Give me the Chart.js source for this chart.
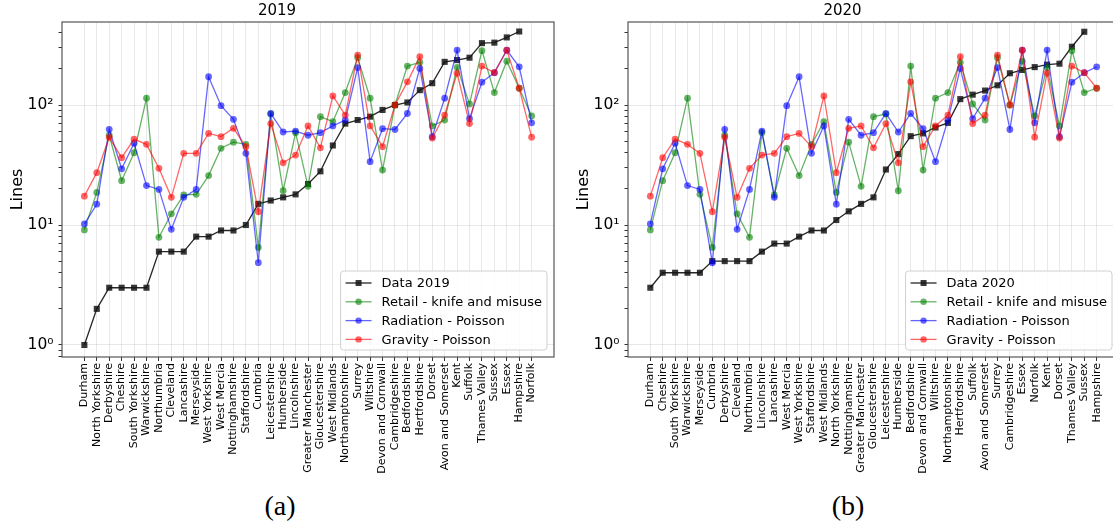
<!DOCTYPE html>
<html>
<head>
<meta charset="utf-8">
<script src="https://cdn.jsdelivr.net/npm/chart.js@4.4.1/dist/chart.umd.min.js"></script>
<style>
  body { margin: 0; width: 1113px; height: 529px; overflow: hidden; position: relative; background: #fff; }
  .box { position: absolute; top: 0; }
  .cap { position: absolute; top: 490px; font: 28px "Liberation Serif", serif; transform: translateX(-50%); }
</style>
</head>
<body>
<div class="box" style="left:0px"><canvas id="c2019" width="570" height="480"></canvas></div>
<div class="box" style="left:566px"><canvas id="c2020" width="570" height="480"></canvas></div>
<div class="cap" style="left:280px">(a)</div>
<div class="cap" style="left:848px">(b)</div>
<script>
// 2019, counties sorted by observed lines
var cats2019 = ["Durham", "North Yorkshire", "Derbyshire", "Cheshire", "South Yorkshire", "Warwickshire",
  "Northumbria", "Cleveland", "Lancashire", "Merseyside", "West Yorkshire", "West Mercia", "Nottinghamshire",
  "Staffordshire", "Cumbria", "Leicestershire", "Humberside", "Lincolnshire", "Greater Manchester",
  "Gloucestershire", "West Midlands", "Northamptonshire", "Surrey", "Wiltshire", "Devon and Cornwall",
  "Cambridgeshire", "Bedfordshire", "Hertfordshire", "Dorset", "Avon and Somerset", "Kent", "Suffolk",
  "Thames Valley", "Sussex", "Essex", "Hampshire", "Norfolk"];
var data2019 = [1, 2, 3, 3, 3, 3, 6, 6, 6, 8, 8, 9, 9, 10, 15, 16, 17, 18, 22, 28, 46, 70, 75, 80, 91,
  100, 105, 133, 152, 229, 237, 248, 328, 331, 366, 410, null];
var retail2019 = [9.1, 18.7, 56, 23.4, 40, 114, 7.9, 12.4, 17.8, 18, 25.8, 43.6, 49, 47, 6.5, 84, 19.3, 58.8,
  21, 80, 72.6, 127, 248, 114, 28.7, 100, 211, 227, 67, 75, 206, 102, 284, 127, 232, 138, 81];
var radiation2019 = [10.2, 14.9, 62.7, 29.4, 48, 21.3, 19.8, 9.2, 17, 19.8, 172, 98.7, 76, 39.6, 4.85, 85, 59.6,
  60.7, 56, 58.8, 67, 75, 205, 33.7, 63.5, 62.5, 85, 202, 54.5, 114, 287, 77, 155, 186, 286, 208, 71];
var gravity2019 = [17.4, 27.3, 53.8, 36.4, 52, 47, 29.7, 17, 39.6, 39.6, 58, 54.5, 64, 45, 12.9, 70, 33, 38.3,
  67, 44, 119, 82.5, 261, 67, 45, 100, 156, 253, 53, 82.5, 184, 70, 211, 186, 286, 138, 54];

// 2020
var cats2020 = ["Durham", "Cheshire", "South Yorkshire", "Warwickshire", "Merseyside", "Cumbria", "Derbyshire",
  "Cleveland", "Northumbria", "Lincolnshire", "Lancashire", "West Mercia", "West Yorkshire", "Staffordshire",
  "West Midlands", "North Yorkshire", "Nottinghamshire", "Greater Manchester", "Gloucestershire",
  "Leicestershire", "Humberside", "Bedfordshire", "Devon and Cornwall", "Wiltshire", "Northamptonshire",
  "Hertfordshire", "Suffolk", "Avon and Somerset", "Surrey", "Cambridgeshire", "Essex", "Norfolk", "Kent",
  "Dorset", "Thames Valley", "Sussex", "Hampshire"];
var data2020 = [3, 4, 4, 4, 4, 5, 5, 5, 5, 6, 7, 7, 8, 9, 9, 11, 13, 15, 17, 29, 39, 55, 58, 65, 71,
  112, 122, 132, 146, 184, 196, 207, 217, 221, 306, 408, null];
var retail2020 = [9.1, 23.4, 40, 114, 18, 6.5, 56, 12.4, 7.9, 58.8, 17.8, 43.6, 25.8, 47, 72.6, 18.7, 49, 21,
  80, 84, 19.3, 211, 28.7, 114, 127, 227, 102, 75, 248, 100, 232, 81, 206, 67, 284, 127, 138];
var radiation2020 = [10.2, 29.4, 48, 21.3, 19.8, 4.85, 62.7, 9.2, 19.8, 60.7, 17, 98.7, 172, 39.6, 67, 14.9, 76,
  56, 58.8, 85, 59.6, 85, 63.5, 33.7, 75, 202, 77, 114, 205, 62.5, 286, 71, 287, 54.5, 155, 186, 208];
var gravity2020 = [17.4, 36.4, 52, 47, 39.6, 12.9, 53.8, 17, 29.7, 38.3, 39.6, 54.5, 58, 45, 119, 27.3, 64, 67,
  44, 70, 33, 156, 45, 67, 82.5, 253, 70, 82.5, 261, 100, 286, 54, 184, 53, 211, 186, 138];

var yMajor = [1, 10, 100];
var yMinor = [0.8, 0.9, 2, 3, 4, 5, 6, 7, 8, 9, 20, 30, 40, 50, 60, 70, 80, 90, 200, 300, 400];
var supers = { 1: "10\u2070", 10: "10\u00b9", 100: "10\u00b2" };

Chart.defaults.font.family = '"DejaVu Sans", sans-serif';
Chart.defaults.color = '#000';

function pts(vals) {
  return vals.map(function (v, i) { return { x: i, y: v }; });
}

// frame around the axes + legend box in the lower right corner
var framePlugin = {
  id: 'frame',
  afterDraw: function (chart) {
    var ctx = chart.ctx, a = chart.chartArea;
    ctx.save();
    ctx.strokeStyle = '#555';
    ctx.lineWidth = 1.2;
    ctx.strokeRect(a.left, a.top, a.right - a.left, a.bottom - a.top);

    var sets = chart.data.datasets;
    ctx.font = '13px "DejaVu Sans"';
    var tw = 0;
    sets.forEach(function (d) { tw = Math.max(tw, ctx.measureText(d.label).width); });
    var w = tw + 46, h = 79;
    var x0 = a.right - 7 - w, y0 = a.bottom - 7 - h;
    ctx.beginPath();
    ctx.roundRect(x0, y0, w, h, 3);
    ctx.fillStyle = 'rgba(255,255,255,0.85)';
    ctx.fill();
    ctx.strokeStyle = '#d0d0d0';
    ctx.lineWidth = 1;
    ctx.stroke();
    sets.forEach(function (d, k) {
      var yy = y0 + 12 + k * 18.8;
      ctx.strokeStyle = d.borderColor;
      ctx.lineWidth = d.borderWidth;
      ctx.beginPath();
      ctx.moveTo(x0 + 5, yy);
      ctx.lineTo(x0 + 31, yy);
      ctx.stroke();
      ctx.fillStyle = d.pointBackgroundColor;
      if (d.pointStyle === 'rect') {
        ctx.fillRect(x0 + 18 - 3, yy - 3, 6, 6);
      } else {
        ctx.beginPath();
        ctx.arc(x0 + 18, yy, 3.2, 0, Math.PI * 2);
        ctx.fill();
      }
      ctx.fillStyle = '#000';
      ctx.textBaseline = 'middle';
      ctx.fillText(d.label, x0 + 41, yy + 1);
    });
    ctx.restore();
  }
};

function makeChart(id, title, cats, obsLabel, obs, retail, radiation, gravity, padRight) {
  return new Chart(document.getElementById(id), {
    type: 'line',
    data: {
      datasets: [{
        label: obsLabel,
        data: pts(obs),
        borderColor: 'rgba(0,0,0,0.85)',
        borderWidth: 1.3,
        pointStyle: 'rect',
        pointRadius: 4.3,
        pointBackgroundColor: 'rgba(20,20,20,0.85)',
        pointBorderWidth: 0,
        order: 4
      }, {
        label: 'Retail - knife and misuse',
        data: pts(retail),
        borderColor: 'rgba(0,128,0,0.6)',
        borderWidth: 1.3,
        pointRadius: 3.4,
        pointBackgroundColor: 'rgba(0,128,0,0.6)',
        pointBorderWidth: 0,
        order: 3
      }, {
        label: 'Radiation - Poisson',
        data: pts(radiation),
        borderColor: 'rgba(0,0,255,0.6)',
        borderWidth: 1.3,
        pointRadius: 3.4,
        pointBackgroundColor: 'rgba(0,0,255,0.6)',
        pointBorderWidth: 0,
        order: 2
      }, {
        label: 'Gravity - Poisson',
        data: pts(gravity),
        borderColor: 'rgba(255,0,0,0.6)',
        borderWidth: 1.3,
        pointRadius: 3.4,
        pointBackgroundColor: 'rgba(255,0,0,0.6)',
        pointBorderWidth: 0,
        order: 1
      }]
    },
    options: {
      responsive: false,
      animation: false,
      layout: { padding: { left: 0, right: padRight, top: 0, bottom: 0 } },
      plugins: {
        legend: { display: false },
        tooltip: { enabled: false },
        title: { display: true, text: title, font: { size: 15, weight: 'normal' }, padding: { top: 2, bottom: 2 } }
      },
      scales: {
        x: {
          type: 'linear',
          min: -1.8,
          max: cats.length - 1 + 1.8,
          afterBuildTicks: function (s) {
            s.ticks = cats.map(function (c, i) { return { value: i }; });
          },
          afterFit: function (s) { s.height = 123; },
          ticks: {
            autoSkip: false,
            minRotation: 90,
            maxRotation: 90,
            padding: 2,
            font: { size: 11 },
            callback: function (v) { return cats[v]; }
          },
          grid: { color: 'rgba(0,0,0,0.09)', tickColor: '#333', tickLength: 4 },
          border: { display: false }
        },
        y: {
          type: 'logarithmic',
          min: 0.794,
          max: 492,
          afterBuildTicks: function (s) {
            s.ticks = yMajor.concat(yMinor).map(function (v) { return { value: v, major: yMajor.indexOf(v) >= 0 }; });
          },
          afterFit: function (s) { s.width = 62; },
          ticks: {
            autoSkip: false,
            padding: 5,
            font: { size: 15.5 },
            callback: function (v) { return supers[v] || ''; }
          },
          grid: {
            color: function (c) { return c.tick && yMajor.indexOf(c.tick.value) >= 0 ? 'rgba(0,0,0,0.09)' : 'rgba(0,0,0,0)'; },
            tickColor: '#333',
            tickLength: 3.5
          },
          border: { display: false },
          title: { display: true, text: 'Lines', font: { size: 16 }, padding: { top: 8, bottom: 0 } }
        }
      }
    },
    plugins: [framePlugin]
  });
}

makeChart('c2019', '2019', cats2019, 'Data 2019', data2019, retail2019, radiation2019, gravity2019, 16);
makeChart('c2020', '2020', cats2020, 'Data 2020', data2020, retail2020, radiation2020, gravity2020, 17);
</script>
</body>
</html>
